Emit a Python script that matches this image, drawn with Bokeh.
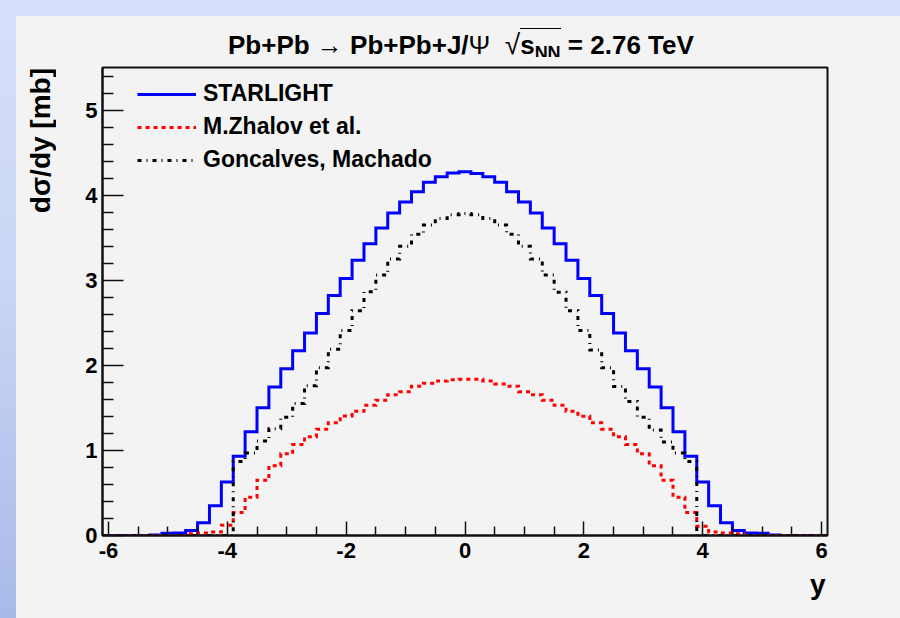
import numpy as np
from bokeh.plotting import figure
from bokeh.models import Range1d, FixedTicker, Legend, LegendItem, Title, Div
from bokeh.layouts import column, row
from bokeh.embed import file_html
from bokeh.resources import INLINE

# Rapidity bins: 61 bins of width 0.2 centred on -6.0 ... 6.0
bin_width = 0.2
y_centers = np.linspace(-6.0, 6.0, 61)

# d(sigma)/dy [mb] per bin
starlight = [0, 0, 0, 0, 0.005, 0.025, 0.03, 0.06, 0.15, 0.35,
             0.63, 0.93, 1.22, 1.50, 1.745, 1.96, 2.17, 2.38, 2.61, 2.82,
             3.02, 3.235, 3.43, 3.615, 3.79, 3.92, 4.04, 4.15, 4.215, 4.26,
             4.275,
             4.255, 4.215, 4.15, 4.04, 3.92, 3.79, 3.615, 3.43, 3.235, 3.02,
             2.82, 2.61, 2.38, 2.17, 1.96, 1.745, 1.50, 1.22, 0.93, 0.63,
             0.35, 0.15, 0.06, 0.03, 0.025, 0.005, 0, 0, 0, 0]

zhalov = [0, 0, 0, 0, 0, 0, 0, 0.02, 0.03, 0.04,
          0.12, 0.27, 0.45, 0.65, 0.82, 0.96, 1.07, 1.16, 1.25, 1.325,
          1.405, 1.46, 1.53, 1.59, 1.655, 1.69, 1.755, 1.79, 1.815, 1.83,
          1.835,
          1.835, 1.815, 1.78, 1.755, 1.69, 1.655, 1.59, 1.53, 1.46, 1.40,
          1.325, 1.25, 1.16, 1.07, 0.96, 0.82, 0.65, 0.45, 0.27, 0.11,
          0.04, 0.03, 0.02, 0, 0, 0, 0, 0, 0, 0]

goncalves = [0, 0, 0, 0, 0, 0, 0, 0, 0, 0,
             0, 0.87, 0.97, 1.11, 1.255, 1.39, 1.55, 1.76, 1.97, 2.19,
             2.41, 2.64, 2.865, 3.06, 3.25, 3.40, 3.54, 3.65, 3.725, 3.77,
             3.785,
             3.77, 3.725, 3.65, 3.54, 3.40, 3.25, 3.06, 2.86, 2.64, 2.41,
             2.18, 1.97, 1.75, 1.575, 1.39, 1.24, 1.10, 0.97, 0.87, 0,
             0, 0, 0, 0, 0, 0, 0, 0, 0, 0]

x_major = [-6, -4, -2, 0, 2, 4, 6]
y_major = [0, 1, 2, 3, 4, 5]

FONT = "Liberation Sans"
X_RANGE = (-6.1, 6.1)
Y_RANGE = (0.0, 5.5)
BG = "#f3f3f3"

# bin edges for ROOT-style step outlines
edges = np.concatenate([y_centers - bin_width / 2, [y_centers[-1] + bin_width / 2]])


def outline(vals):
    return list(vals) + [vals[-1]]


OFF_X, OFF_Y = 16, 16          # blue page border
TITLE_H = 41                   # height of the title strip
YLAB_W = 60                    # width of the y-axis title strip
W = 900 - OFF_X - YLAB_W
H = 618 - OFF_Y - TITLE_H
ML, MR, MT, MB = 26, 73, 10, 83

# ---- title strip (HTML so the radical and subscript can be typeset) ----
title_html = (
    "<div style=\"font-family:'Liberation Sans',Arial,sans-serif;font-weight:bold;"
    "font-size:26px;line-height:26px;color:#000;white-space:nowrap;"
    "padding-top:16px;padding-left:212px;\">"
    "Pb+Pb <span style='font-weight:normal'>&rarr;</span> Pb+Pb+J/"
    "<span style='font-weight:normal'>&Psi;</span>&nbsp;&nbsp;"
    "<span style='font-weight:normal;font-size:28px'>&radic;</span>"
    "<span style='border-top:1.5px solid #000;padding-top:1px'>s"
    "<span style='font-size:18px;position:relative;top:5px'>NN</span></span>"
    " = 2.76 TeV</div>"
)
title_div = Div(text=title_html, width=900 - OFF_X, height=TITLE_H,
                styles={"background-color": BG})
title_div.margin = (OFF_Y, 0, 0, OFF_X)

# ---- y-axis title, reading upwards and flush with the top of the frame ----
ylab_html = (
    "<div style=\"display:inline-block;writing-mode:vertical-rl;"
    "transform:rotate(180deg);font-family:'Liberation Sans',Arial,sans-serif;"
    "font-weight:bold;font-size:28px;line-height:28px;color:#000;white-space:nowrap;"
    "margin-top:11px;margin-left:11px;\">dσ/dy [mb]</div>"
)
ylab_div = Div(text=ylab_html, width=YLAB_W, height=H,
               styles={"background-color": BG})
ylab_div.margin = (0, 0, 0, 0)

p = figure(width=W, height=H, output_backend="svg", toolbar_location=None,
           x_range=Range1d(*X_RANGE), y_range=Range1d(*Y_RANGE),
           min_border_left=ML, min_border_right=MR,
           min_border_top=MT, min_border_bottom=MB,
           background_fill_color=BG, border_fill_color=BG)
p.margin = (0, 0, 0, 0)
p.grid.visible = False
p.outline_line_color = "#111111"
p.outline_line_width = 2

r_star = p.step(edges, outline(starlight), mode="after", line_color="#0000ff",
                line_width=3, line_join="miter")
r_zh = p.step(edges, outline(zhalov), mode="after", line_color="#ff0000",
              line_width=3, line_dash="4 4", line_join="miter")
r_gm = p.step(edges, outline(goncalves), mode="after", line_color="#000000",
              line_width=3, line_dash="4 5 1 5", line_join="miter")

# axes: ROOT-like inward ticks
xa = p.xaxis[0]
xa.ticker = FixedTicker(ticks=x_major,
                        minor_ticks=[v / 2 for v in range(-12, 13) if v % 4 != 0])
xa.major_label_overrides = {float(v): str(v) for v in x_major}
xa.major_tick_in = 14
xa.major_tick_out = 0
xa.minor_tick_in = 9
xa.minor_tick_out = 0
xa.major_label_standoff = 7

ya = p.yaxis[0]
ya.ticker = FixedTicker(ticks=y_major,
                        minor_ticks=[v / 5 for v in range(0, 28) if v % 5 != 0])
ya.major_label_overrides = {float(v): str(v) for v in y_major}
ya.major_tick_in = 21
ya.major_tick_out = 0
ya.minor_tick_in = 11
ya.minor_tick_out = 0
ya.major_label_standoff = 5

for ax in (xa, ya):
    ax.axis_line_width = 2
    ax.axis_line_color = "#111111"
    ax.major_tick_line_color = "#111111"
    ax.minor_tick_line_color = "#111111"
    ax.major_tick_line_width = 1.5
    ax.minor_tick_line_width = 1.5
    ax.major_label_text_font = FONT
    ax.major_label_text_font_style = "bold"
    ax.major_label_text_font_size = "22px"
    ax.major_label_text_color = "#000000"

# x-axis title at the right end of the axis, as ROOT draws it
p.add_layout(Title(text="y", align="right", text_font=FONT, text_font_style="bold",
                   text_font_size="28px", text_color="#000000", standoff=13,
                   offset=2), "below")

legend = Legend(items=[LegendItem(label="STARLIGHT", renderers=[r_star]),
                       LegendItem(label="M.Zhalov et al.", renderers=[r_zh]),
                       LegendItem(label="Goncalves, Machado", renderers=[r_gm])],
                location=(35, 362), glyph_width=59, glyph_height=22, label_height=22,
                spacing=6, padding=0, margin=0, border_line_color=None,
                background_fill_alpha=0, label_standoff=7,
                label_text_font=FONT, label_text_font_style="bold",
                label_text_font_size="23px", label_text_color="#000000")
p.add_layout(legend)

body = row(ylab_div, p, spacing=0, styles={"background-color": BG})
body.margin = (0, 0, 0, OFF_X)
page = column(title_div, body, width=900, height=618, spacing=0,
              styles={"background": "linear-gradient(to bottom, #d7e0fa 0%, #cad6f4 45%, #a7bae8 100%)"})

open("out.html", "w").write(file_html(page, INLINE))
